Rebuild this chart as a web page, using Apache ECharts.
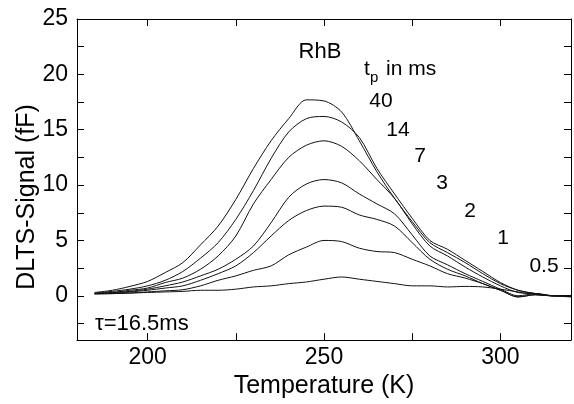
<!DOCTYPE html>
<html>
<head>
	<meta charset="UTF-8">
	<title>DLTS RhB</title>
	<script src="https://cdn.jsdelivr.net/npm/echarts@6/dist/echarts.min.js"></script>
	<style>
		html, body { margin: 0; padding: 0; background: #fff; }
		#main { width: 574px; height: 404px; }
	</style>
</head>
<body>
	<div id="main"></div>
	<script>
		// 温度 (K)
		var temps = [185, 190, 195, 200, 205, 210, 215, 220, 225, 230, 235, 240, 245, 250,
			255, 260, 265, 270, 275, 280, 285, 290, 295, 300, 305, 310, 315, 320];

		// t_p 各曲线 (fF)
		var tp40 = [0.3, 0.5, 0.85, 1.3, 2.1, 3.0, 4.6, 6.3, 8.7, 11.5, 14.0, 16.0, 17.7, 17.6,
			16.6, 14.0, 11.2, 8.8, 6.7, 4.8, 3.9, 3.0, 2.0, 1.1, 0.5, 0.2, 0.0, 0.0];
		var tp14 = [0.25, 0.4, 0.6, 0.9, 1.4, 2.2, 3.4, 4.8, 6.9, 9.5, 12.4, 14.8, 16.0, 16.2,
			15.7, 14.3, 11.5, 9.2, 7.0, 5.0, 4.2, 3.2, 2.2, 1.2, 0.5, 0.2, 0.0, 0.0];
		var tp7 = [0.2, 0.3, 0.5, 0.7, 1.2, 1.6, 2.4, 3.6, 5.4, 8.3, 10.5, 12.5, 13.6, 14.0,
			13.5, 12.2, 10.5, 8.8, 6.5, 4.5, 3.6, 2.6, 1.7, 0.9, 0.3, 0.2, 0.0, 0.0];
		var tp3 = [0.2, 0.3, 0.4, 0.6, 0.9, 1.25, 1.8, 2.4, 3.3, 4.5, 6.6, 8.9, 10.1, 10.5,
			10.2, 9.2, 8.3, 7.4, 5.5, 3.6, 2.8, 2.0, 1.3, 0.6, 0.0, 0.2, 0.0, -0.1];
		var tp2 = [0.2, 0.25, 0.35, 0.5, 0.7, 0.9, 1.4, 2.0, 2.7, 3.9, 5.4, 6.8, 7.7, 8.1,
			8.0, 7.3, 6.9, 6.3, 4.8, 3.3, 2.4, 1.8, 1.1, 0.5, -0.1, 0.1, 0.0, 0.0];
		var tp1 = [0.15, 0.2, 0.25, 0.35, 0.45, 0.55, 0.9, 1.4, 1.8, 2.3, 2.7, 3.7, 4.4, 5.0,
			4.9, 4.3, 4.0, 3.9, 3.3, 2.7, 2.0, 1.6, 1.1, 0.5, -0.1, 0.1, 0.0, 0.0];
		var tp05 = [0.2, 0.2, 0.25, 0.3, 0.35, 0.4, 0.5, 0.5, 0.6, 0.8, 0.9, 1.1, 1.25, 1.5,
			1.7, 1.5, 1.3, 1.1, 0.9, 0.9, 0.8, 0.85, 0.8, 0.6, 0.35, 0.1, 0.0, 0.0];

		var curves = [tp40, tp14, tp7, tp3, tp2, tp1, tp05];

		// 刻度
		var xTicks = [200, 225, 250, 275, 300];
		var xLabels = [200, 250, 300];
		var yTicks = [-2.5, 0, 2.5, 5, 7.5, 10, 12.5, 15, 17.5, 20, 22.5, 25];
		var yLabels = [0, 5, 10, 15, 20, 25];

		var fontName = 'Liberation Sans, Arial, sans-serif';
		var chart = echarts.init(document.getElementById('main'));

		var lineStyle = { color: '#000', width: 1 };

		function pairs(values) {
			var out = [];
			for (var i = 0; i < temps.length; i++) {
				out.push([temps[i], values[i]]);
			}
			return out;
		}

		var series = curves.map(function (c) {
			return {
				type: 'line',
				data: pairs(c),
				showSymbol: false,
				smooth: 0.3,
				lineStyle: { color: '#111', width: 1 },
				xAxisIndex: 0,
				yAxisIndex: 0
			};
		});

		function txt(text, x, y, size, align) {
			return {
				type: 'text',
				x: x,
				y: y,
				style: {
					text: text,
					font: size + 'px ' + fontName,
					fill: '#000',
					textAlign: align || 'center',
					textVerticalAlign: 'middle'
				}
			};
		}

		function frameAxis(pos, min, max, ticks) {
			return {
				type: 'value',
				min: min,
				max: max,
				position: pos,
				axisLine: { show: true, onZero: false, lineStyle: lineStyle },
				axisTick: { show: true, inside: true, length: 7, customValues: ticks, lineStyle: lineStyle },
				axisLabel: { show: false },
				splitLine: { show: false }
			};
		}

		var option = {
			animation: false,
			grid: { left: 77, right: 3, top: 19, bottom: 62 },
			xAxis: [{
				type: 'value',
				min: 180,
				max: 320,
				position: 'bottom',
				axisLine: { show: true, onZero: false, lineStyle: lineStyle },
				axisTick: { inside: true, length: 7, customValues: xTicks, lineStyle: lineStyle },
				axisLabel: { customValues: xLabels, fontSize: 23, color: '#000', margin: 6, fontFamily: fontName },
				splitLine: { show: false },
				name: 'Temperature (K)',
				nameLocation: 'middle',
				nameGap: 33,
				nameTextStyle: { fontSize: 25, color: '#000', fontFamily: fontName }
			}, frameAxis('top', 180, 320, xTicks)],
			yAxis: [{
				type: 'value',
				min: -4,
				max: 25,
				position: 'left',
				axisLine: { show: true, onZero: false, lineStyle: lineStyle },
				axisTick: { show: true, inside: true, length: 7, customValues: yTicks, lineStyle: lineStyle },
				axisLabel: { customValues: yLabels, fontSize: 23, color: '#000', margin: 9, fontFamily: fontName },
				splitLine: { show: false }
			}, frameAxis('right', -4, 25, yTicks)],
			graphic: [
				{
					type: 'text',
					x: 27,
					y: 197,
					rotation: Math.PI / 2,
					style: {
						text: 'DLTS-Signal (fF)',
						font: '25px ' + fontName,
						fill: '#000',
						textAlign: 'center',
						textVerticalAlign: 'middle'
					}
				},
				txt('RhB', 320, 52, 22),
				txt('t', 364, 69, 21, 'left'),
				txt('p', 370, 78, 15, 'left'),
				txt('in ms', 386, 69, 21, 'left'),
				txt('40', 381, 101, 21),
				txt('14', 398, 130, 21),
				txt('7', 420, 156, 21),
				txt('3', 442, 183, 21),
				txt('2', 470, 211, 21),
				txt('1', 503, 238, 21),
				txt('0.5', 544, 266, 21),
				txt('τ=16.5ms', 95, 324, 22, 'left')
			],
			series: series
		};

		chart.setOption(option);
	</script>
</body>
</html>
